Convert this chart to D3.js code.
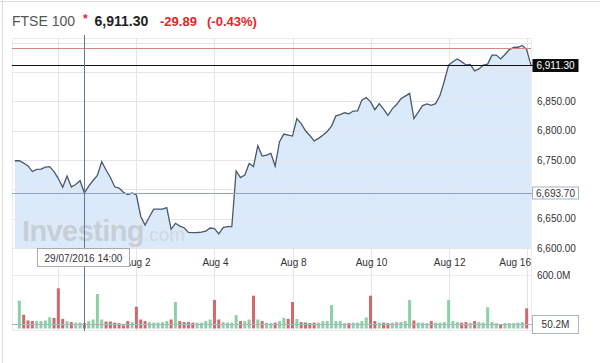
<!DOCTYPE html>
<meta charset="utf-8">
<style>
body { margin: 0; background: #fff; }
text { font-family: Arial, "Liberation Sans", sans-serif; }
.grid line { stroke: #ececec; stroke-width: 1px; shape-rendering: crispEdges; }
.ytick { font-size: 10px; fill: #333; }
.xtick { font-size: 10px; fill: #333; }
</style>
<body>
<script src="https://cdn.jsdelivr.net/npm/d3@7"></script>
<script>

// hourly bars, 08:00..16:00
var tradingDays = ["27/07/2016","28/07/2016","29/07/2016","01/08/2016","02/08/2016",
                   "03/08/2016","04/08/2016","05/08/2016","08/08/2016","09/08/2016",
                   "10/08/2016","11/08/2016","12/08/2016","15/08/2016","16/08/2016"];
var hours = ["08:00","09:00","10:00","11:00","12:00","13:00","14:00","15:00","16:00"];

var closes = [
  6748.7, 6748.7, 6744.8, 6740.0, 6730.3, 6733.9, 6734.6, 6738.0, 6738.8, 6730.3,
  6718.4, 6703.4, 6722.7, 6703.9, 6708.2, 6714.7, 6693.7, 6705.6, 6715.0, 6723.5,
  6747.0, 6732.9, 6720.1, 6704.4, 6702.2, 6695.1, 6691.0, 6693.7, 6690.3, 6653.7,
  6639.2, 6653.3, 6666.1, 6666.4, 6666.4, 6669.0, 6631.9, 6642.1, 6637.3, 6634.6,
  6626.7, 6626.2, 6626.4, 6626.9, 6628.8, 6634.1, 6633.2, 6623.9, 6634.8, 6636.3,
  6636.3, 6731.5, 6720.1, 6724.4, 6744.0, 6738.8, 6774.3, 6756.7, 6758.4, 6761.3,
  6739.7, 6781.1, 6794.2, 6792.5, 6790.8, 6820.6, 6812.1, 6799.8, 6791.7, 6782.6,
  6786.9, 6792.2, 6798.6, 6807.8, 6825.2, 6827.3, 6830.5, 6828.8, 6833.4, 6833.9,
  6852.1, 6856.6, 6849.1, 6835.8, 6846.2, 6836.8, 6826.1, 6837.1, 6844.5, 6854.3,
  6858.9, 6863.5, 6820.6, 6831.7, 6842.8, 6845.7, 6843.1, 6846.0, 6859.8, 6884.2,
  6911.8, 6917.4, 6922.3, 6917.7, 6912.1, 6912.8, 6902.0, 6905.3, 6911.8, 6913.5,
  6928.8, 6928.8, 6922.3, 6929.8, 6938.2, 6942.1, 6942.2, 6945.2, 6938.2, 6911.3
];

// volume, millions
var volumes = [
    0, 312, 154,  90,  83,  83,  83,  90, 125, 119,
  451, 108,  83,  72,  66,  66,  62,  83, 101, 387,
  101,  78,  78,  66,  60,  37,  83,  72, 244, 101,
   83,  72,  66,  66,  72,  83, 101, 297,  83,  72,
   72,  66,  66,  66,  83, 101, 319, 101,  72,  66,
   66, 151,  83,  83, 101, 368, 101,  83,  66,  60,
   66,  83, 119, 108, 297, 108,  72,  66,  60,  66,
   66,  83,  83, 263,  83,  83,  60,  60,  66,  66,
   83, 125, 368,  83,  66,  66,  60,  66,  72,  72,
   83, 319,  90,  66,  66,  60,  83,  66,  66,  72,
  319,  83,  72,  66,  72,  66,  83,  72,  66, 238,
   72,  60,  48,  60,  60,  60,  66,  72, 226,   0
];

var xTickDays = ["29/07/2016","02/08/2016","04/08/2016","08/08/2016","10/08/2016","12/08/2016","16/08/2016"];
var xTickText = ["Jul 29","Aug 2","Aug 4","Aug 8","Aug 10","Aug 12","Aug 16"];
var yTicks = [6600, 6650, 6700, 6750, 6800, 6850, 6900];
var yGrid = [6600, 6650, 6700, 6750, 6800, 6850, 6900, 6950];

var last = 6911.30, change = -29.89, changePct = -0.43;
var prevClose = last - change;
var hoverBar = "29/07/2016 14:00";
var volTop = 600.0, volLast = 50.2;

var bars = [];
tradingDays.forEach(function(d) {
  hours.forEach(function(h) { bars.push(d + " " + h); });
});
bars = bars.slice(8, 8 + closes.length);

var width = 600, height = 363;
var pLeft = 12, pRight = 531, pTop = 38, pBottom = 249;
var vTop = 275, vBottom = 329;

var svg = d3.select("body").append("svg")
    .attr("width", width)
    .attr("height", height);

var x = d3.scalePoint().domain(bars).range([15, pRight]);
var y = d3.scaleLinear().domain([6600, 6900]).range([248, 72]);
var yv = d3.scaleLinear().domain([0, volTop]).range([328.5, vTop]);

var fmt = d3.format(",.2f");

// page border
svg.append("line").attr("x1", 2.5).attr("x2", 2.5).attr("y1", 0).attr("y2", height)
    .attr("stroke", "#ddd");
svg.append("line").attr("x1", 0).attr("x2", width).attr("y1", 1.5).attr("y2", 1.5)
    .attr("stroke", "#ddd");

// header
svg.append("text").attr("x", 12).attr("y", 26).attr("font-size", "14px")
    .attr("fill", "#555").text("FTSE 100");
svg.append("text").attr("x", 83).attr("y", 23).attr("font-size", "12px")
    .attr("font-weight", "bold").attr("fill", "#e2262b").text("*");
svg.append("text").attr("x", 94.5).attr("y", 26).attr("font-size", "14px")
    .attr("font-weight", "bold").attr("fill", "#222").text(fmt(last));
svg.append("text").attr("x", 160).attr("y", 26).attr("font-size", "13px")
    .attr("font-weight", "bold").attr("fill", "#e2262b").text(change.toFixed(2));
svg.append("text").attr("x", 207).attr("y", 26).attr("font-size", "13px")
    .attr("font-weight", "bold").attr("fill", "#e2262b").text("(" + changePct.toFixed(2) + "%)");

// grid frame
var grid = svg.append("g").attr("class", "grid");
grid.append("line").attr("x1", pLeft).attr("x2", pRight).attr("y1", pTop + 0.5).attr("y2", pTop + 0.5);
grid.append("line").attr("x1", pLeft).attr("x2", pRight).attr("y1", vTop + 0.5).attr("y2", vTop + 0.5);
grid.append("line").attr("x1", pLeft).attr("x2", pRight).attr("y1", vBottom + 1.5).attr("y2", vBottom + 1.5);
grid.append("line").attr("x1", pLeft + 0.5).attr("x2", pLeft + 0.5).attr("y1", pTop).attr("y2", vBottom + 2);
grid.append("line").attr("x1", pRight + 0.5).attr("x2", pRight + 0.5).attr("y1", pTop).attr("y2", vBottom + 2);

// area
var area = d3.area()
    .x(function(d, i) { return x(bars[i]); })
    .y0(pBottom)
    .y1(function(d) { return y(d); });
var line = d3.line()
    .x(function(d, i) { return x(bars[i]); })
    .y(function(d) { return y(d); });

svg.append("path").datum(closes).attr("d", area).attr("fill", "#dbeafb");

// grid lines drawn over the fill
var xg = svg.append("g").attr("class", "grid");
xTickDays.forEach(function(d) {
  var xx = Math.round(x(d + " " + hours[0])) + 0.5;
  xg.append("line").attr("x1", xx).attr("x2", xx).attr("y1", pTop).attr("y2", vBottom + 2)
    .style("stroke", "#e2e6ea");
});
yGrid.forEach(function(d) {
  xg.append("line").attr("x1", pLeft).attr("x2", pRight)
    .attr("y1", Math.round(y(d)) + 0.5).attr("y2", Math.round(y(d)) + 0.5)
    .style("stroke", "#e2e6ea");
});

// watermark
var wm = svg.append("text").attr("x", 22).attr("y", 241).attr("fill", "#c3c8cd").attr("opacity", 0.8);
wm.append("tspan").attr("font-size", "29px").attr("font-weight", "bold")
    .attr("letter-spacing", "-0.6px").text("Investing");
wm.append("tspan").attr("font-size", "19px").attr("fill", "#d0d4d8").text(".com");

svg.append("path").datum(closes).attr("d", line)
    .attr("fill", "none").attr("stroke", "#4b586a").attr("stroke-width", 1.3);

// reference lines
svg.append("line").attr("x1", pLeft).attr("x2", pRight)
    .attr("y1", Math.round(y(prevClose)) + 0.5).attr("y2", Math.round(y(prevClose)) + 0.5)
    .attr("stroke", "#d08a85").attr("stroke-width", 1);
svg.append("line").attr("x1", pLeft).attr("x2", pRight + 2)
    .attr("y1", Math.round(y(last)) + 0.5).attr("y2", Math.round(y(last)) + 0.5)
    .attr("stroke", "#111").attr("stroke-width", 1);

// volume bars
svg.append("g").selectAll("rect")
    .data(volumes)
  .enter().append("rect")
    .attr("x", function(d, i) { return x(bars[i]) - 1.5; })
    .attr("width", 3)
    .attr("y", function(d) { return yv(d); })
    .attr("height", function(d) { return yv(0) - yv(d); })
    .attr("fill", function(d, i) {
      return (i === 0 || closes[i] >= closes[i - 1]) ? "#8ed0a5" : "#d4676b";
    });

svg.append("line").attr("x1", pLeft).attr("x2", pRight + 2)
    .attr("y1", Math.round(yv(volLast)) + 0.5).attr("y2", Math.round(yv(volLast)) + 0.5)
    .attr("stroke", "#a9b7c6").attr("stroke-width", 1);

// crosshair
var hi = bars.indexOf(hoverBar);
var cx = Math.round(x(hoverBar)) + 0.5, cy = Math.round(y(closes[hi])) + 0.5;
svg.append("line").attr("x1", pLeft).attr("x2", pRight + 2).attr("y1", cy).attr("y2", cy)
    .attr("stroke", "#8ea6bf");
svg.append("line").attr("x1", cx).attr("x2", cx).attr("y1", pTop - 3).attr("y2", vBottom + 2)
    .attr("stroke", "#5f7a94");

// y axis labels (the boxes cover the ticks they sit on)
var boxed = [closes[hi], last];
svg.append("g").selectAll("text")
    .data(yTicks.filter(function(t) {
      return boxed.every(function(b) { return Math.abs(y(t) - y(b)) > 9; });
    }))
  .enter().append("text")
    .attr("class", "ytick")
    .attr("x", 537)
    .attr("y", function(d) { return y(d) + 3.5; })
    .text(fmt);

// x axis labels (the first one sits under the date box)
xTickDays.forEach(function(d, i) {
  var xx = x(d + " " + hours[0]) + 1;
  if (Math.abs(xx - cx) < 40) return;
  var t = svg.append("text").attr("class", "xtick").attr("y", 266).text(xTickText[i]);
  if (xx + 16 > pRight) t.attr("x", pRight).attr("text-anchor", "end");
  else t.attr("x", xx).attr("text-anchor", "middle");
});

// volume labels
svg.append("text").attr("class", "ytick").attr("x", 537).attr("y", vTop + 3.5)
    .text(volTop.toFixed(1) + "M");
var vb = svg.append("g").attr("transform", "translate(532.5," + (Math.round(yv(volLast)) - 8.5) + ")");
vb.append("rect").attr("width", 46).attr("height", 18).attr("fill", "#fff").attr("stroke", "#a9b7c6");
vb.append("text").attr("class", "ytick").attr("x", 23).attr("y", 12.5).attr("text-anchor", "middle")
    .text(volLast.toFixed(1) + "M");

// hover price box
var hb = svg.append("g").attr("transform", "translate(532.5," + (cy - 6.5) + ")");
hb.append("rect").attr("width", 46).attr("height", 12).attr("fill", "#fff").attr("stroke", "#9fb3c8");
hb.append("text").attr("class", "ytick").attr("x", 23).attr("y", 9.5).attr("text-anchor", "middle")
    .text(fmt(closes[hi]));

// last price box
var lb = svg.append("g").attr("transform", "translate(532.5," + (Math.round(y(last)) - 6) + ")");
lb.append("rect").attr("width", 46).attr("height", 13).attr("fill", "#0b0b0b");
lb.append("text").attr("class", "ytick").attr("x", 23).attr("y", 10).attr("text-anchor", "middle")
    .style("fill", "#fff").text(fmt(last));

// hover date box
var tb = svg.append("g").attr("transform", "translate(37.5,248.5)");
tb.append("rect").attr("width", 92).attr("height", 18).attr("fill", "#fff").attr("stroke", "#aaa");
tb.append("text").attr("class", "xtick").attr("x", 46).attr("y", 13).attr("text-anchor", "middle")
    .text(hoverBar);

</script>
